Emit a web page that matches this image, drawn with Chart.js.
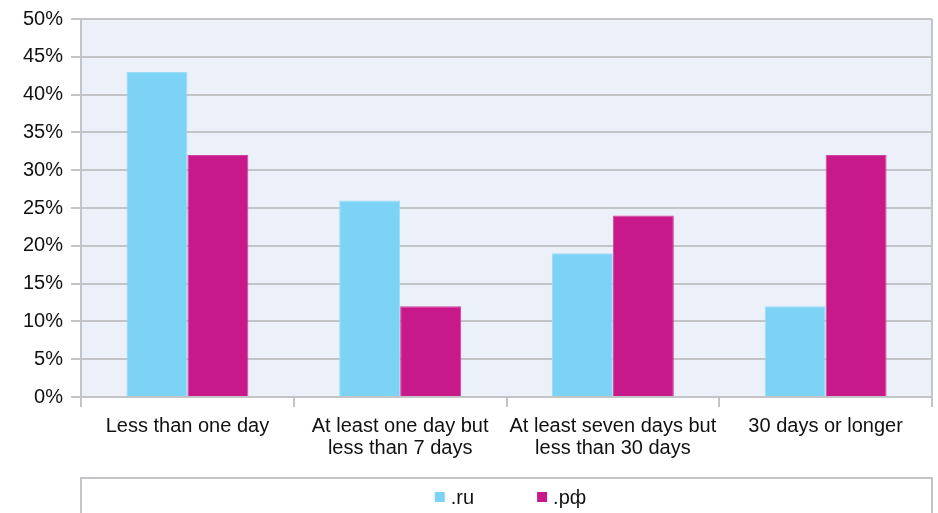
<!DOCTYPE html>
<html>
<head>
<meta charset="utf-8">
<script src="https://cdn.jsdelivr.net/npm/chart.js@4"></script>
<style>
  html, body { margin: 0; padding: 0; background: #ffffff; }
  #wrap { width: 938px; height: 513px; }
</style>
</head>
<body>
<div id="wrap"><canvas id="c" width="938" height="513"></canvas></div>
<script>
// Share of domains by lifetime
const categories = [
  'Less than one day',
  ['At least one day but', 'less than 7 days'],
  ['At least seven days but', 'less than 30 days'],
  '30 days or longer'
];
const ruValues = [43, 26, 19, 12];
const rfValues = [32, 12, 24, 32];
const seriesNames = ['.ru', '.рф'];

const FONT_FAMILY = '"Liberation Sans", Arial, Helvetica, sans-serif';
const FONT = { family: FONT_FAMILY, size: 20, lineHeight: 1.1 };
const GRID = '#c3c4c8';

// Plot background, right border and a framed legend under the axis
const framePlugin = {
  id: 'frame',
  beforeDraw(chart) {
    const { ctx, chartArea: a } = chart;
    ctx.save();
    ctx.fillStyle = '#ecf1f9';
    ctx.fillRect(a.left, a.top, a.right - a.left, a.bottom - a.top);
    ctx.restore();
  },
  afterDraw(chart) {
    const { ctx, chartArea: a } = chart;
    ctx.save();
    ctx.strokeStyle = GRID;
    ctx.lineWidth = 2;
    ctx.beginPath();
    ctx.moveTo(a.right, a.top);
    ctx.lineTo(a.right, a.bottom + 10);
    ctx.stroke();

    const boxTop = a.bottom + 81;
    ctx.strokeRect(a.left, boxTop, a.right - a.left, chart.height);

    // legend entries
    ctx.font = `${FONT.size}px ${FONT_FAMILY}`;
    ctx.textBaseline = 'middle';
    const sw = 10, gap = 6, itemGap = 63;
    const items = chart.data.datasets.map(ds => ({
      text: ds.label, color: ds.backgroundColor, w: sw + gap + ctx.measureText(ds.label).width
    }));
    const total = items.reduce((s, it) => s + it.w, 0) + itemGap * (items.length - 1);
    let x = (a.left + a.right) / 2 - total / 2 + 4;
    const y = boxTop + 19;
    items.forEach(it => {
      ctx.fillStyle = it.color;
      ctx.fillRect(x, y - sw / 2, sw, sw);
      ctx.fillStyle = '#111';
      ctx.fillText(it.text, x + sw + gap, y + 1);
      x += it.w + itemGap;
    });
    ctx.restore();
  }
};

new Chart(document.getElementById('c'), {
  type: 'bar',
  data: {
    labels: categories,
    datasets: [
      { label: seriesNames[0], data: ruValues, backgroundColor: '#7dd3f5', borderColor: '#9bdcf7', borderWidth: 1 },
      { label: seriesNames[1], data: rfValues, backgroundColor: '#c8198a', borderColor: '#d2459e', borderWidth: 1 }
    ]
  },
  options: {
    responsive: false,
    animation: false,
    layout: { padding: { left: 15, right: 6, top: 8, bottom: 46 } },
    datasets: { bar: { categoryPercentage: 0.573, barPercentage: 1.0 } },
    plugins: {
      legend: { display: false },
      tooltip: { enabled: false }
    },
    scales: {
      y: {
        min: 0, max: 50,
        ticks: { stepSize: 5, callback: v => v + '%', font: FONT, color: '#111', padding: 8 },
        grid: { color: GRID, lineWidth: 2, tickLength: 10 },
        border: { color: GRID, width: 2 }
      },
      x: {
        ticks: { font: FONT, color: '#111', padding: 8, maxRotation: 0 },
        grid: { drawOnChartArea: false, color: GRID, lineWidth: 2, tickLength: 10, offset: true },
        border: { color: GRID, width: 2 }
      }
    }
  },
  plugins: [framePlugin]
});
</script>
</body>
</html>
